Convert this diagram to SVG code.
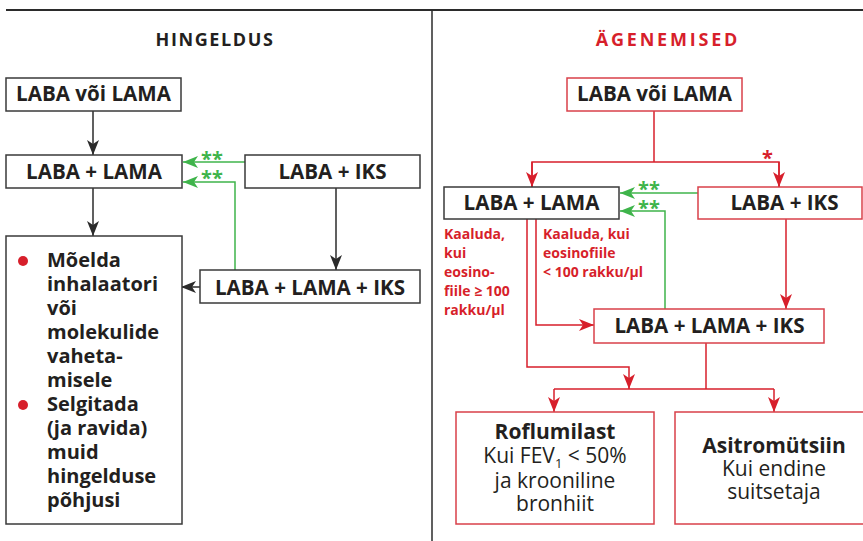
<svg xmlns="http://www.w3.org/2000/svg" width="863" height="541" viewBox="0 0 863 541">
<style>
  text { font-family: "Open Sans", "Liberation Sans", sans-serif; fill: #231f20; }
  .lbl { font-size: 20.6px; font-weight: bold; text-anchor: middle; }
  .bul { font-size: 20px; font-weight: bold; }
  .title { font-size: 18px; font-weight: bold; text-anchor: middle; }
  .red { fill: #d71f2b; }
  .note { font-size: 14px; font-weight: bold; fill: #d71f2b; }
  .star { font-size: 20px; font-weight: bold; }
  .bx { fill: #fff; stroke: #3a3a3a; stroke-width: 1.5; }
  .rbx { fill: #fff; stroke: #d9404a; stroke-width: 1.5; }
  .big { font-size: 21px; text-anchor: middle; }
  .k { fill: none; stroke: #2b2b2b; stroke-width: 1.5; }
  .r { fill: none; stroke: #d71f2b; stroke-width: 1.5; }
  .g { fill: none; stroke: #3fb44b; stroke-width: 1.5; }
</style>
<defs>
  <marker id="ak" markerUnits="userSpaceOnUse" markerWidth="16" markerHeight="12" refX="15" refY="6" orient="auto">
    <path d="M0,0 L15,6 L0,12 L4,6 z" fill="#2b2b2b"/>
  </marker>
  <marker id="ar" markerUnits="userSpaceOnUse" markerWidth="16" markerHeight="12" refX="15" refY="6" orient="auto">
    <path d="M0,0 L15,6 L0,12 L4,6 z" fill="#d71f2b"/>
  </marker>
  <marker id="ag" markerUnits="userSpaceOnUse" markerWidth="16" markerHeight="12" refX="15" refY="6" orient="auto">
    <path d="M0,0 L15,6 L0,12 L4,6 z" fill="#3fb44b"/>
  </marker>
</defs>

<g id="frame">
  <line x1="6" y1="10" x2="863" y2="10" stroke="#2b2b2b" stroke-width="1.8"/>
  <line x1="432" y1="10" x2="432" y2="541" stroke="#2b2b2b" stroke-width="1.5"/>
</g>

<g id="titles">
  <text class="title" x="215" y="46" letter-spacing="1.6">HINGELDUS</text>
  <text class="title red" x="668" y="46" letter-spacing="2.8">ÄGENEMISED</text>
</g>

<g id="connectors">
  <!-- left black -->
  <line class="k" x1="93" y1="111" x2="93" y2="155" marker-end="url(#ak)"/>
  <line class="k" x1="93" y1="188" x2="93" y2="236" marker-end="url(#ak)"/>
  <line class="k" x1="336" y1="188" x2="336" y2="270" marker-end="url(#ak)"/>
  <line class="k" x1="200" y1="287" x2="181" y2="287" marker-end="url(#ak)"/>
  <!-- left green -->
  <line class="g" x1="245" y1="162" x2="183" y2="162" marker-end="url(#ag)"/>
  <polyline class="g" points="235,270 235,182 183,182" marker-end="url(#ag)"/>
  <!-- right green -->
  <line class="g" x1="698" y1="193" x2="620" y2="193" marker-end="url(#ag)"/>
  <polyline class="g" points="665,309 665,211 620,211" marker-end="url(#ag)"/>
  <!-- right red -->
  <line class="r" x1="654" y1="111" x2="654" y2="162"/>
  <polyline class="r" points="532,187 532,162 779,162 779,187"/>
  <line class="r" x1="532" y1="162" x2="532" y2="187" marker-end="url(#ar)"/>
  <line class="r" x1="779" y1="162" x2="779" y2="187" marker-end="url(#ar)"/>
  <polyline class="r" points="527,219 527,367 629,367 629,389" marker-end="url(#ar)"/>
  <polyline class="r" points="536,219 536,325 594,325" marker-end="url(#ar)"/>
  <line class="r" x1="786" y1="219" x2="786" y2="309" marker-end="url(#ar)"/>
  <line class="r" x1="706" y1="343" x2="706" y2="389"/>
  <line class="r" x1="554" y1="389" x2="774" y2="389"/>
  <line class="r" x1="554" y1="389" x2="554" y2="412" marker-end="url(#ar)"/>
  <line class="r" x1="774" y1="389" x2="774" y2="412" marker-end="url(#ar)"/>
  <!-- stars -->
  <text class="star" x="201" y="166" style="fill:#3fb44b">**</text>
  <text class="star" x="201" y="185" style="fill:#3fb44b">**</text>
  <text class="star" x="638" y="196" style="fill:#3fb44b">**</text>
  <text class="star" x="638" y="215" style="fill:#3fb44b">**</text>
  <text class="star" x="762" y="165" style="fill:#d71f2b">*</text>
</g>

<g id="l-laba-voi-lama">
  <rect class="bx" x="6" y="78" width="175" height="33"/>
  <text class="lbl" x="93.5" y="101">LABA või LAMA</text>
</g>
<g id="l-laba-lama">
  <rect class="bx" x="6" y="155" width="176" height="33"/>
  <text class="lbl" x="94" y="179">LABA + LAMA</text>
</g>
<g id="l-laba-iks">
  <rect class="bx" x="245" y="155" width="175" height="33"/>
  <text class="lbl" x="332.5" y="179">LABA + IKS</text>
</g>
<g id="l-laba-lama-iks">
  <rect class="bx" x="200" y="270" width="220" height="33"/>
  <text class="lbl" x="310" y="295">LABA + LAMA + IKS</text>
</g>
<g id="l-bullets">
  <rect class="bx" x="6" y="236" width="176" height="288"/>
  <circle cx="23" cy="261" r="5" fill="#d71f2b"/>
  <circle cx="23" cy="405" r="5" fill="#d71f2b"/>
  <text class="bul" x="47" y="267">Mõelda</text>
  <text class="bul" x="47" y="291">inhalaatori</text>
  <text class="bul" x="47" y="315">või</text>
  <text class="bul" x="47" y="339">molekulide</text>
  <text class="bul" x="47" y="363">vaheta-</text>
  <text class="bul" x="47" y="387">misele</text>
  <text class="bul" x="47" y="411">Selgitada</text>
  <text class="bul" x="47" y="435">(ja ravida)</text>
  <text class="bul" x="47" y="459">muid</text>
  <text class="bul" x="47" y="483">hingelduse</text>
  <text class="bul" x="47" y="507">põhjusi</text>
</g>

<g id="r-laba-voi-lama">
  <rect class="rbx" x="567" y="78" width="175" height="33"/>
  <text class="lbl" x="654.5" y="101">LABA või LAMA</text>
</g>
<g id="r-laba-lama">
  <rect class="bx" x="444" y="187" width="175" height="32"/>
  <text class="lbl" x="531.5" y="210">LABA + LAMA</text>
</g>
<g id="r-laba-iks">
  <rect class="rbx" x="698" y="187" width="164" height="32"/>
  <text class="lbl" x="784.5" y="210">LABA + IKS</text>
</g>
<g id="r-laba-lama-iks">
  <rect class="rbx" x="594" y="309" width="230" height="34"/>
  <text class="lbl" x="709.5" y="333">LABA + LAMA + IKS</text>
</g>
<g id="r-notes">
  <text class="note" x="444" y="239">Kaaluda,</text>
  <text class="note" x="444" y="258">kui</text>
  <text class="note" x="444" y="277">eosino-</text>
  <text class="note" x="444" y="296">fiile ≥ 100</text>
  <text class="note" x="444" y="315">rakku/µl</text>
  <text class="note" x="543" y="239">Kaaluda, kui</text>
  <text class="note" x="543" y="258">eosinofiile</text>
  <text class="note" x="543" y="277">&lt; 100 rakku/µl</text>
</g>
<g id="r-roflumilast">
  <rect class="rbx" x="456" y="412" width="198" height="112"/>
  <text class="big" x="555" y="439" font-weight="bold">Roflumilast</text>
  <text class="big" x="555" y="463">Kui FEV<tspan font-size="13" dy="5">1</tspan><tspan dy="-5"> &lt; 50%</tspan></text>
  <text class="big" x="555" y="488">ja krooniline</text>
  <text class="big" x="555" y="511">bronhiit</text>
</g>
<g id="r-asitromytsiin">
  <rect class="rbx" x="675" y="412" width="192" height="112"/>
  <text class="big" x="774" y="453" font-weight="bold">Asitromütsiin</text>
  <text class="big" x="774" y="476">Kui endine</text>
  <text class="big" x="774" y="499">suitsetaja</text>
</g>
</svg>
